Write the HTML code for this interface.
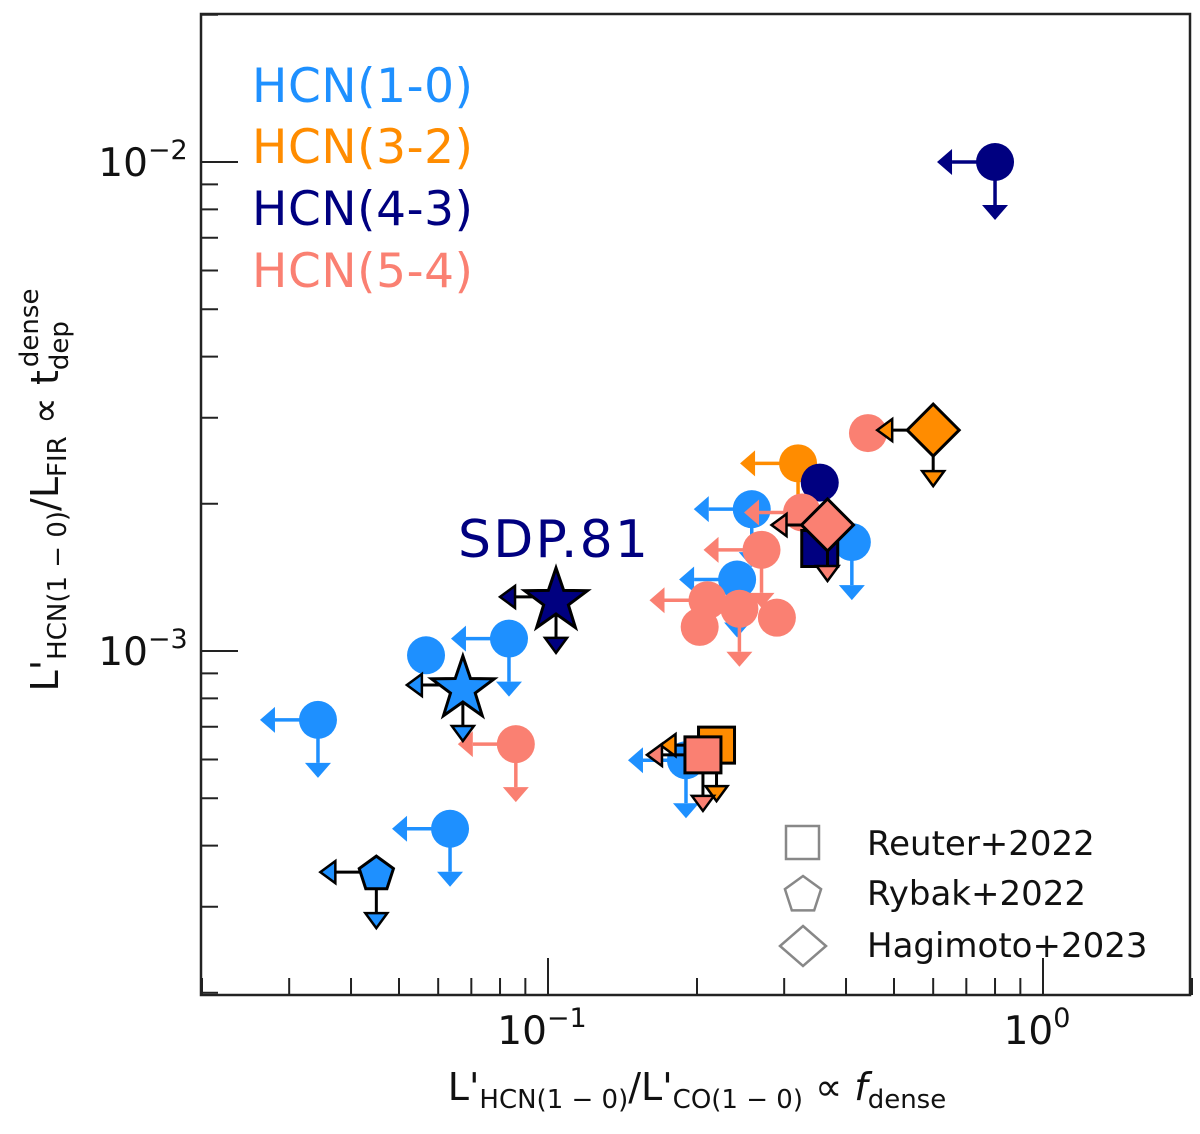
<!DOCTYPE html>
<html><head><meta charset="utf-8"><style>
body{margin:0;background:#fff}
svg text{font-family:"DejaVu Sans","Liberation Sans",sans-serif}
</style></head><body>
<svg id="c" width="1200" height="1129" xmlns="http://www.w3.org/2000/svg"></svg>
<script>
// data: [x, y, upperLimitX, upperLimitY]
const hcn10 = [[0.0343,0.000723,1,1],[0.0567,0.00098,0,0],[0.0834,0.00106,1,1],[0.0634,0.000433,1,1],[0.258,0.00195,1,1],[0.241,0.0014,1,1],[0.411,0.00167,0,1],[0.19,0.000598,1,1]];
const hcn32 = [[0.32,0.00242,1,1]];
const hcn43 = [[0.8,0.01,1,1],[0.354,0.00221,0,0]];
const hcn54 = [[0.0861,0.000645,1,1],[0.443,0.00279,0,0],[0.326,0.00192,1,0],[0.27,0.00161,1,1],[0.21,0.00127,1,0],[0.2436,0.00122,0,1],[0.2025,0.00112,0,0],[0.29,0.00117,0,0]];
const specialX = [0.0673,0.1038,0.045,0.219,0.2056,0.354,0.6,0.367];
const specialY = [0.000852,0.00129,0.000353,0.000642,0.000613,0.00162,0.00283,0.00181];
const specialC = ['#1e90ff','#000080','#1e90ff','#ff8c00','#fa8072','#000080','#ff8c00','#fa8072'];
const specialS = ['star','star','pent','sq','sq','sq','dia','dia'];
const specialL = [[1,1],[1,1],[1,1],[1,1],[1,1],[0,0],[1,1],[1,1]];
const xTicks = [0.1,1], xTickLabels=['−1','0'];
const yTicks = [0.001,0.01], yTickLabels=['−3','−2'];

const L=201,R=1190,T=14,B=995;
const X=v=>548+495*(Math.log10(v)+1);
const Y=v=>651-489*(Math.log10(v)+3);
const svg=document.getElementById('c');
const NS='http://www.w3.org/2000/svg';
function mk(t,a,p){const e=document.createElementNS(NS,t);for(const k in a)e.setAttribute(k,a[k]);(p||svg).appendChild(e);return e;}

const fr=mk('rect',{x:L,y:T,width:R-L,height:B-T,fill:'none',stroke:'#222','stroke-width':2.5});


for(let e=-2;e<=0;e++)for(let m=1;m<10;m++){const v=m*Math.pow(10,e);if(v<0.02||v>2)continue;const x=X(v);const len=m==1?37:17;
 const t=mk('line',{x1:x,x2:x,y1:B,y2:B-len,stroke:'#222','stroke-width':2});
 
 }
for(let e=-4;e<=-2;e++)for(let m=1;m<10;m++){const v=m*Math.pow(10,e);if(v<0.0002||v>0.02)continue;const y=Y(v);const len=m==1?37:17;
 const t=mk('line',{x1:L,x2:L+len,y1:y,y2:y,stroke:'#222','stroke-width':2});
 
 }
xTicks.forEach((v,i)=>{const t=mk('text',{x:X(v)-6,y:1044,'font-size':39,'text-anchor':'middle',fill:'#111'});
 t.innerHTML='10<tspan dy="-17" font-size="27">'+xTickLabels[i]+'</tspan>';
 
 });
yTicks.forEach((v,i)=>{const t=mk('text',{x:143,y:Y(v)+14,'font-size':39,'text-anchor':'middle',fill:'#111'});
 t.innerHTML='10<tspan dy="-17" font-size="27">'+yTickLabels[i]+'</tspan>';
 
 });
const xt=mk('text',{x:697,y:1100,'font-size':38,'text-anchor':'middle',fill:'#111'});
xt.innerHTML=`L'<tspan font-size="26" dy="8">HCN(1 − 0)</tspan><tspan dy="-8">/L'</tspan><tspan font-size="26" dy="8">CO(1 − 0)</tspan><tspan dy="-8"> ∝ </tspan><tspan font-style="italic">f</tspan><tspan font-size="26" dy="8">dense</tspan>`;


const yt=mk('text',{x:0,y:0,'font-size':38,'text-anchor':'middle',fill:'#111',transform:'translate(58,490) rotate(-90)'});
yt.innerHTML=`L'<tspan font-size="26" dy="8">HCN(1 − 0)</tspan><tspan dy="-8">/L</tspan><tspan font-size="26" dy="8">FIR</tspan><tspan dy="-8"> ∝  t</tspan><tspan font-size="26" dy="10">dep</tspan><tspan font-size="26" dx="-46" dy="-30">dense</tspan>`;



function arrows(cx,cy,ulx,uly,col,len,edge){
 const sw=edge?3:3.5, h=edge?15:15, w=edge?11:13;
 if(ulx){const ex=cx-len;mk('line',{x1:cx,y1:cy,x2:ex+h,y2:cy,stroke:edge?'#000':col,'stroke-width':sw});
  mk('polygon',{points:`${ex},${cy} ${ex+h},${cy-w} ${ex+h},${cy+w}`,fill:col,stroke:edge?'#000':'none','stroke-width':2.5});}
 if(uly){const ey=cy+len;mk('line',{x1:cx,y1:cy,x2:cx,y2:ey-h,stroke:edge?'#000':col,'stroke-width':sw});
  mk('polygon',{points:`${cx},${ey} ${cx-w},${ey-h} ${cx+w},${ey-h}`,fill:col,stroke:edge?'#000':'none','stroke-width':2.5});}
}
const series=[[hcn10,'#1e90ff','hcn10-point'],[hcn32,'#ff8c00','hcn32-point'],[hcn43,'#000080','hcn43-point'],[hcn54,'#fa8072','hcn54-point']];
series.forEach(([d,col,nm])=>d.forEach(p=>{const cx=X(p[0]),cy=Y(p[1]);
 arrows(cx,cy,p[2],p[3],col,58,false);
 const c=mk('circle',{cx:cx,cy:cy,r:19,fill:col});
 
 }));

function shape(s,cx,cy,col){
 let pts;
 if(s=='star'){const a1=[];for(let i=0;i<10;i++){const r=i%2?13:33,a=-Math.PI/2+i*Math.PI/5;a1.push((cx+r*Math.cos(a))+','+(cy+4+r*Math.sin(a)));}pts=a1.join(' ');}
 else if(s=='pent'){const a1=[];for(let i=0;i<5;i++){const a=-Math.PI/2+i*2*Math.PI/5;a1.push((cx+18*Math.cos(a))+','+(cy+2+18*Math.sin(a)));}pts=a1.join(' ');}
 else if(s=='sq'){pts=`${cx-18},${cy-18} ${cx+18},${cy-18} ${cx+18},${cy+18} ${cx-18},${cy+18}`;}
 else {pts=`${cx},${cy-26} ${cx+26},${cy} ${cx},${cy+26} ${cx-26},${cy}`;}
 return mk('polygon',{points:pts,fill:col,stroke:'#000','stroke-width':3});
}
specialX.forEach((v,i)=>{const cx=X(v),cy=Y(specialY[i]);
 arrows(cx,cy,specialL[i][0],specialL[i][1],specialC[i],56,true);
 const p=shape(specialS[i],cx,cy,specialC[i]);
 
 });

[['HCN(1-0)','#1e90ff',102],['HCN(3-2)','#ff8c00',163],['HCN(4-3)','#000080',225],['HCN(5-4)','#fa8072',287]].forEach(([t,c,y])=>{
 const e=mk('text',{x:252,y:y,'font-size':47,fill:c,textLength:221});e.textContent=t;
 
 });
const sd=mk('text',{x:458,y:557,'font-size':52,fill:'#000080',textLength:190});sd.textContent='SDP.81';


const gs='#888';
mk('rect',{x:786,y:826,width:33,height:33,fill:'none',stroke:gs,'stroke-width':2.5});
{const a1=[];for(let i=0;i<5;i++){const a=-Math.PI/2+i*2*Math.PI/5;a1.push((803+19*Math.cos(a))+','+(895+19*Math.sin(a)));}mk('polygon',{points:a1.join(' '),fill:'none',stroke:gs,'stroke-width':2.5});}
mk('polygon',{points:'803,926 826,946 803,966 780,946',fill:'none',stroke:gs,'stroke-width':2.5});
[['Reuter+2022',855],['Rybak+2022',905],['Hagimoto+2023',957]].forEach(([t,y])=>{
 const e=mk('text',{x:867,y:y,'font-size':34,fill:'#111'});e.textContent=t;
 
 });
</script>
</body></html>
